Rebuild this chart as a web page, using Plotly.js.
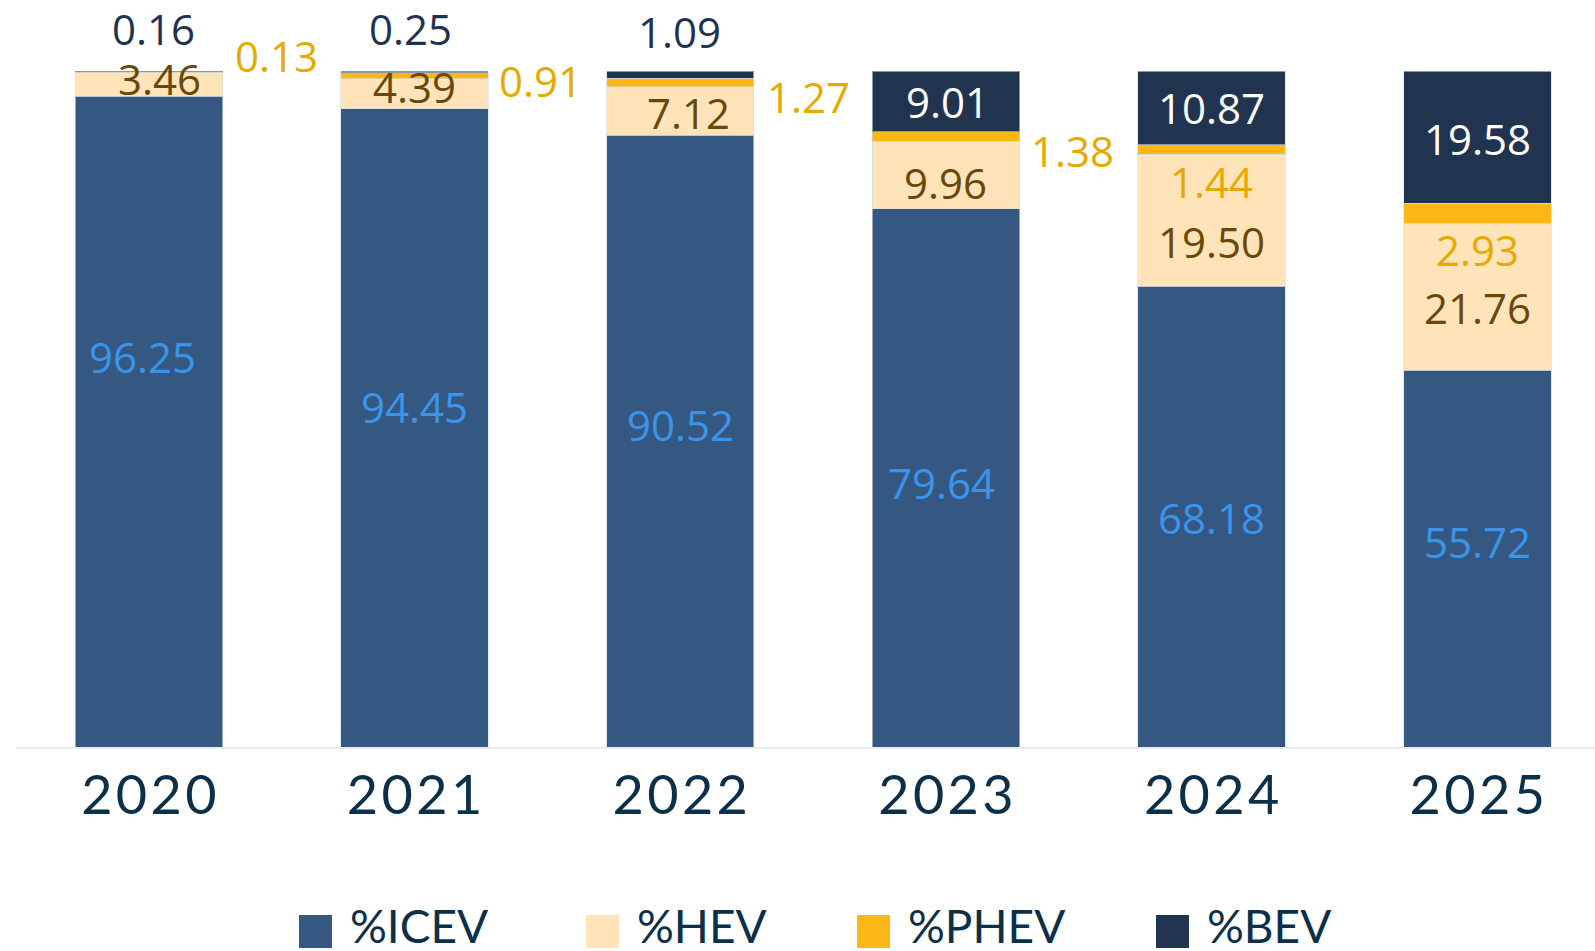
<!DOCTYPE html>
<html>
<head>
<meta charset="utf-8">
<script src="https://cdn.plot.ly/plotly-3.0.1.min.js"></script>
<style>
html,body{margin:0;padding:0;background:#ffffff;}
#chart{width:1595px;height:951px;}
</style>
</head>
<body>
<div id="chart"></div>
<script>
// ---- data ----
const years = ['2020', '2021', '2022', '2023', '2024', '2025'];
const icev = [96.25, 94.45, 90.52, 79.64, 68.18, 55.72];
const hev  = [3.46, 4.39, 7.12, 9.96, 19.50, 21.76];
const phev = [0.13, 0.91, 1.27, 1.38, 1.44, 2.93];
const bev  = [0.16, 0.25, 1.09, 9.01, 10.87, 19.58];
const seriesNames = ['%ICEV', '%HEV', '%PHEV', '%BEV'];

// ---- styles ----
const barColors = ['#355882', '#ffe4b9', '#fbb713', '#20344f'];
const labelColors = ['#3a95ea', '#6b470a', '#e6a900', '#1f3350'];
const inkColor = '#0c3049';
const labelFont = 'Open Sans, Noto Sans, sans-serif';
const tickFontFamily = 'Lato, Noto Sans, sans-serif';

// label placement offsets (pixels) relative to the middle of each segment
const offsets = {
  icev: {dx: [-6, 0, 0, -4, 0, 0], dy: [65, 21, 17, -5, -1, 17]},
  hev:  {dx: [11, 0, 8, 0, 0, 0], dy: [6, 7, -1, -8, -21, -11]},
  phev: {dx: [128, 126, 128, 127, 0, 0], dy: [17, -5, -14, -14, -32, -36]},
  bev:  {dx: [5, -4, -1, 2, 0, 0], dy: [43, 43, 43, 0, 0, -1]}
};
// BEV labels that sit inside the dark segment are white
const bevInside = [false, false, false, true, true, true];

const series = [icev, hev, phev, bev];
const keys = ['icev', 'hev', 'phev', 'bev'];

const traces = series.map((vals, k) => ({
  type: 'bar',
  name: seriesNames[k],
  x: years,
  y: vals,
  marker: {color: barColors[k], line: {color: 'rgba(210,218,228,0.6)', width: 1}},
  showlegend: false,
  hoverinfo: 'x+y+name'
}));

// ---- value labels via annotations anchored to data ----
const annotations = [];
years.forEach((yr, i) => {
  let base = 0;
  series.forEach((vals, k) => {
    const v = vals[i];
    const mid = base + v / 2;
    base += v;
    const key = keys[k];
    let col = labelColors[k];
    if (key === 'bev' && bevInside[i]) col = '#ffffff';
    annotations.push({
      x: i, y: mid, xref: 'x', yref: 'y',
      text: v.toFixed(2),
      showarrow: false,
      xanchor: 'center', yanchor: 'middle',
      xshift: offsets[key].dx[i],
      yshift: offsets[key].dy[i],
      font: {family: labelFont, size: 42, color: col}
    });
  });
});

// ---- manual legend (large square swatches) ----
const W = 1595, H = 951;
const mL = 16, mR = 0, mT = 71, mB = 204;
const plotW = W - mL - mR, plotH = H - mT - mB;
const px2x = px => (px - mL) / plotW;
const px2y = py => (H - mB - py) / plotH;

const legendSwatchLeft = [299, 586, 857, 1156];
const legendTextLeft = [348, 635, 906, 1205];
const shapes = [];
seriesNames.forEach((nm, k) => {
  shapes.push({
    type: 'rect', xref: 'paper', yref: 'paper',
    x0: px2x(legendSwatchLeft[k]), x1: px2x(legendSwatchLeft[k] + 33),
    y0: px2y(915), y1: px2y(948),
    fillcolor: barColors[k], line: {width: 0}
  });
  annotations.push({
    xref: 'paper', yref: 'paper',
    x: px2x(legendTextLeft[k]), y: px2y(925),
    xanchor: 'left', yanchor: 'middle',
    text: nm, showarrow: false,
    font: {family: tickFontFamily, size: 46, color: inkColor}
  });
});

// tick labels with slight letter tracking (hair spaces between digits)
const tickText = years.map(y => y.split('').join('\u200A'));

const layout = {
  width: W, height: H,
  margin: {l: mL, r: mR, t: mT, b: mB, pad: 0},
  paper_bgcolor: '#ffffff',
  plot_bgcolor: '#ffffff',
  barmode: 'stack',
  bargap: 0.445,
  showlegend: false,
  xaxis: {
    type: 'category',
    range: [-0.5, 5.443],
    tickmode: 'array',
    tickvals: years,
    ticktext: tickText,
    showline: true, linecolor: '#ebebeb', linewidth: 2,
    showgrid: false, zeroline: false,
    ticks: '',
    tickfont: {family: tickFontFamily, size: 54, color: inkColor},
    ticklabelstandoff: 0,
    fixedrange: true
  },
  yaxis: {
    range: [0, 100],
    showticklabels: false,
    showline: false,
    ticks: '',
    showgrid: false, zeroline: false,
    fixedrange: true
  },
  annotations: annotations,
  shapes: shapes
};

Plotly.newPlot('chart', traces, layout, {displayModeBar: false, staticPlot: true});
</script>
</body>
</html>
